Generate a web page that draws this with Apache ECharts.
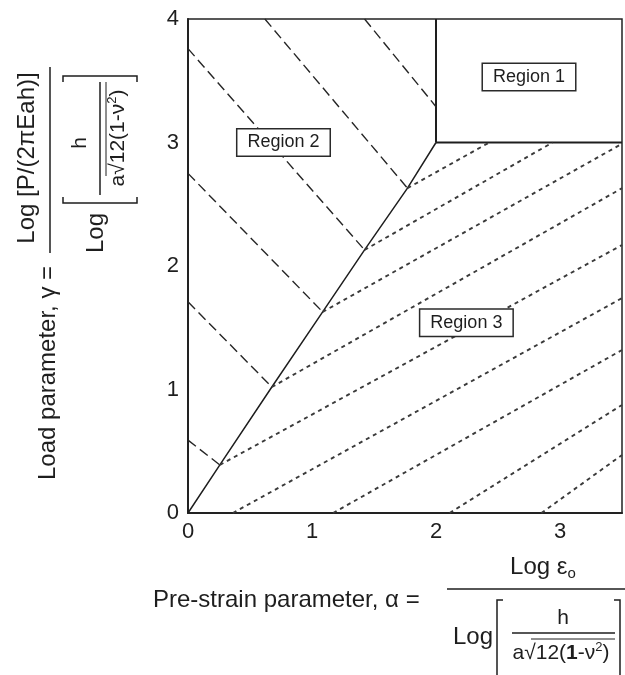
<!DOCTYPE html>
<html>
<head>
<meta charset="utf-8">
<title>Load parameter vs pre-strain parameter</title>
<script src="https://cdn.jsdelivr.net/npm/echarts@6/dist/echarts.min.js"></script>
<style>
  html, body { margin: 0; padding: 0; background: #fff; }
  #chart { width: 625px; height: 675px; }
</style>
</head>
<body>
<div id="chart"></div>
<script>
// Axis ticks
const xTicks = [0, 1, 2, 3];
const yTicks = [0, 1, 2, 3, 4];

// Boundary between Region 2 and Region 3 (solid), ending at the Region 1 corner
const boundary = [[0, 0], [0.257, 0.389], [0.676, 1.02], [1.086, 1.628], [1.424, 2.13], [1.77, 2.63], [2.0, 3.0]];

// Region 1 edges (solid)
const region1Edges = [
  [[2.0, 3.0], [2.0, 4.0]],
  [[2.0, 3.0], [3.5, 3.0]]
];

// Region 2 contours (long dashes)
const region2Lines = [
  [[0, 0.59], [0.257, 0.389]],
  [[0, 1.71], [0.676, 1.02]],
  [[0, 2.75], [1.086, 1.628]],
  [[0, 3.76], [1.424, 2.13]],
  [[0.62, 4.0], [1.77, 2.63]],
  [[1.424, 4.0], [2.0, 3.29]]
];

// Region 3 contours (short dashes)
const region3Lines = [
  [[1.77, 2.63], [2.43, 3.0]],
  [[1.424, 2.13], [2.94, 3.0]],
  [[1.086, 1.628], [3.5, 2.99]],
  [[0.676, 1.02], [3.5, 2.63]],
  [[0.257, 0.389], [3.5, 2.17]],
  [[0.362, 0], [3.5, 1.74]],
  [[1.17, 0], [3.5, 1.32]],
  [[2.11, 0], [3.5, 0.875]],
  [[2.85, 0], [3.5, 0.47]]
];

// Region name boxes
const regionNames = ['Region 1', 'Region 2', 'Region 3'];
const regionCentres = [[2.75, 3.53], [0.77, 3.0], [2.245, 1.54]];

const FONT = '"Liberation Sans", Arial, Helvetica, sans-serif';
const INK = '#1e1e1e';

function segmentSeries(seg, style) {
  return {
    type: 'line',
    data: seg,
    symbol: 'none',
    silent: true,
    lineStyle: style,
    z: 3
  };
}

const series = [];
series.push(segmentSeries(boundary, { color: INK, width: 1.5, type: 'solid' }));
region1Edges.forEach(s => series.push(segmentSeries(s, { color: INK, width: 2, type: 'solid' })));
region2Lines.forEach(s => series.push(segmentSeries(s, { color: '#262626', width: 1.4, type: [10, 5] })));
region3Lines.forEach(s => series.push(segmentSeries(s, { color: '#3a3a3a', width: 1.9, type: [4, 4] })));

function text(x, y, str, size, align, extra) {
  return Object.assign({
    type: 'text',
    x: x,
    y: y,
    silent: true,
    style: {
      text: str,
      fontFamily: FONT,
      fontSize: size,
      fill: INK,
      align: align || 'left',
      verticalAlign: 'middle'
    }
  }, extra || {});
}

function richText(x, y, str, rich, align) {
  return {
    type: 'text',
    x: x,
    y: y,
    silent: true,
    style: {
      text: str,
      fontFamily: FONT,
      fill: INK,
      align: align || 'center',
      verticalAlign: 'middle',
      rich: rich
    }
  };
}

function hline(x1, x2, y, w) {
  return { type: 'line', silent: true, shape: { x1: x1, y1: y, x2: x2, y2: y }, style: { stroke: INK, lineWidth: w || 1.5 } };
}

function bracket(x, y1, y2, dir) {
  const arm = 6 * dir;
  return {
    type: 'polyline',
    silent: true,
    shape: { points: [[x + arm, y1], [x, y1], [x, y2], [x + arm, y2]] },
    style: { stroke: INK, lineWidth: 1.5, fill: null }
  };
}

const sqrtRich = {
  n: { fontFamily: FONT, fontSize: 21, lineHeight: 24, color: INK },
  b: { fontFamily: FONT, fontSize: 21, lineHeight: 24, color: INK, fontWeight: 'bold' },
  sup: { fontFamily: FONT, fontSize: 13, lineHeight: 13, color: INK, verticalAlign: 'top' }
};

// Horizontal axis title: Pre-strain parameter, alpha = Log eps_o / Log[h / (a sqrt(12(1-nu^2)))]
const xTitle = {
  type: 'group',
  x: 153,
  y: 600,
  children: [
    text(0, 0, 'Pre-strain parameter, \u03b1 =', 24, 'left'),
    hline(294, 472, -11),
    richText(390, -33, '{m|Log \u03b5}{s|o}', {
      m: { fontFamily: FONT, fontSize: 24, lineHeight: 28, color: INK },
      s: { fontFamily: FONT, fontSize: 15, lineHeight: 15, color: INK, verticalAlign: 'bottom' }
    }),
    text(300, 37, 'Log', 24, 'left'),
    bracket(344, 0, 80, 1),
    bracket(467, 0, 80, -1),
    text(410, 18, 'h', 21, 'center'),
    hline(359, 462, 33),
    hline(378, 462, 39, 1),
    richText(408, 53, '{n|a\u221a12(}{b|1}{n|-\u03bd}{sup|2}{n|)}', sqrtRich)
  ]
};

// Vertical axis title: Load parameter, gamma = Log[P/(2 pi E a h)] / Log[h / (a sqrt(12(1-nu^2)))]
const yTitle = {
  type: 'group',
  x: 48,
  y: 480,
  rotation: Math.PI / 2,
  children: [
    text(0, 0, 'Load parameter, \u03b3 =', 24, 'left'),
    hline(227, 413, 2),
    text(322, -21, 'Log [P/(2\u03c0Eah)]', 24, 'center'),
    text(227, 48, 'Log', 24, 'left'),
    bracket(277, 15, 89, 1),
    bracket(404, 15, 89, -1),
    text(337, 32, 'h', 21, 'center'),
    hline(285, 398, 52),
    hline(304, 398, 58, 1),
    richText(342, 70, '{n|a\u221a12(1-\u03bd}{sup|2}{n|)}', sqrtRich)
  ]
};

const chart = echarts.init(document.getElementById('chart'), null, { renderer: 'canvas' });
chart.setOption({
  animation: false,
  backgroundColor: '#fff',
  grid: {
    left: 188,
    top: 19,
    right: 2,
    bottom: 162,
    show: true,
    borderColor: '#222',
    borderWidth: 1.5,
    backgroundColor: 'transparent'
  },
  xAxis: {
    type: 'value',
    min: 0,
    max: 3.5,
    interval: 1,
    axisLine: { show: true, onZero: false, lineStyle: { color: '#222', width: 2 } },
    axisTick: { show: false },
    splitLine: { show: false },
    axisLabel: {
      margin: 8,
      fontFamily: FONT,
      fontSize: 22,
      color: INK,
      formatter: v => (xTicks.indexOf(v) >= 0 ? String(v) : '')
    }
  },
  yAxis: {
    type: 'value',
    min: 0,
    max: 4,
    interval: 1,
    axisLine: { show: true, onZero: false, lineStyle: { color: '#222', width: 2 } },
    axisTick: { show: false },
    splitLine: { show: false },
    axisLabel: {
      margin: 9,
      fontFamily: FONT,
      fontSize: 22,
      color: INK,
      formatter: v => (yTicks.indexOf(v) >= 0 ? String(v) : '')
    }
  },
  graphic: [xTitle, yTitle],
  series: series
});

// Region name boxes, placed through the axis scales and drawn above the contours
const regionBoxes = regionNames.map((name, i) => {
  const p = chart.convertToPixel({ gridIndex: 0 }, regionCentres[i]);
  return {
    type: 'text',
    x: p[0],
    y: p[1],
    z: 100,
    silent: true,
    style: {
      text: name,
      fontFamily: FONT,
      fontSize: 18,
      fill: INK,
      align: 'center',
      verticalAlign: 'middle',
      backgroundColor: '#ffffff',
      borderColor: '#2a2a2a',
      borderWidth: 1.5,
      padding: [4, 10, 4, 10]
    }
  };
});
chart.setOption({ graphic: [xTitle, yTitle].concat(regionBoxes) });
</script>
</body>
</html>
